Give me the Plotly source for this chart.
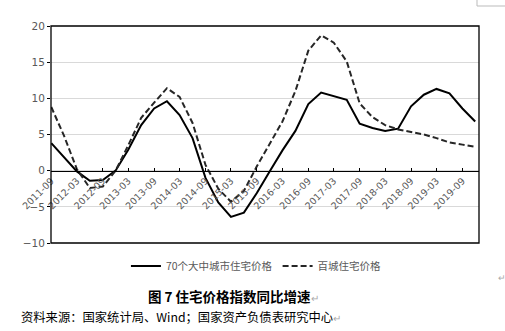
import plotly.graph_objects as go

# Quarterly observation dates
quarters = [
    "2011-09", "2011-12", "2012-03", "2012-06", "2012-09", "2012-12",
    "2013-03", "2013-06", "2013-09", "2013-12", "2014-03", "2014-06",
    "2014-09", "2014-12", "2015-03", "2015-06", "2015-09", "2015-12",
    "2016-03", "2016-06", "2016-09", "2016-12", "2017-03", "2017-06",
    "2017-09", "2017-12", "2018-03", "2018-06", "2018-09", "2018-12",
    "2019-03", "2019-06", "2019-09", "2019-12",
]

# YoY growth of residential price index, %
city70 = [
    3.8, 1.9, -0.1, -1.4, -1.3, 0.0, 2.9, 6.3, 8.6, 9.6, 7.7, 4.5,
    -1.0, -4.4, -6.4, -5.8, -3.1, -0.1, 2.8, 5.5, 9.2, 10.8, 10.3, 9.8,
    6.5, 5.9, 5.5, 5.8, 8.9, 10.5, 11.3, 10.7, 8.6, 6.8,
]
city100 = [
    8.8, 4.8, 0.2, -2.4, -2.2, 0.0, 3.5, 7.3, 9.4, 11.4, 10.2, 6.6,
    0.8, -2.5, -4.3, -2.8, 0.6, 3.7, 6.8, 11.0, 16.6, 18.7, 17.7, 15.1,
    9.3, 7.4, 6.3, 5.7, 5.3, 5.0, 4.5, 3.9, 3.6, 3.3,
]

names = ["70个大中城市住宅价格", "百城住宅价格"]
y_ticks = [-10, -5, 0, 5, 10, 15, 20]

x_dates = [q + "-01" for q in quarters]

grey = "#595959"
cjk = "Noto Sans CJK SC"

fig = go.Figure()
fig.add_trace(go.Scatter(
    x=x_dates, y=city70, name=names[0], mode="lines",
    line=dict(color="#000000", width=2),
))
fig.add_trace(go.Scatter(
    x=x_dates, y=city100, name=names[1], mode="lines",
    line=dict(color="#262626", width=2, dash="6px,3px"),
))

W, H = 505, 331
ml, mr, mt, mb = 51, 26, 26, 88
plot_w = W - ml - mr
plot_h = H - mt - mb
ymin, ymax = -10, 20
zero_frac = (0 - ymin) / (ymax - ymin)

fig.update_layout(
    width=W, height=H,
    margin=dict(l=ml, r=mr, t=mt, b=mb),
    paper_bgcolor="white", plot_bgcolor="white",
    showlegend=True,
    legend=dict(
        orientation="h", x=0.48, xanchor="center",
        y=-23 / plot_h, yanchor="middle",
        font=dict(family=cjk, size=10.5, color=grey),
        itemwidth=30, tracegroupgap=0,
    ),
    xaxis=dict(
        type="date",
        range=["2011-08-30", "2019-12-28"],
        tick0="2011-09-01", dtick="M6", tickformat="%Y-%m",
        tickangle=-45,
        tickfont=dict(family="DejaVu Sans", size=9.5, color=grey),
        anchor="free", position=zero_frac,
        showline=True, linecolor="#000000", linewidth=1.3,
        ticks="inside", ticklen=3, tickcolor="#000000",
        showgrid=False, zeroline=False,
    ),
    yaxis=dict(
        range=[ymin, ymax], tickvals=y_ticks,
        tickfont=dict(family="DejaVu Sans", size=10.5, color=grey),
        showgrid=True, gridcolor="#d9d9d9", gridwidth=1,
        ticks="outside", ticklen=3, tickcolor="#000000",
        zeroline=False, showline=False,
    ),
    shapes=[
        dict(type="rect", xref="paper", yref="paper", x0=0, x1=1, y0=0, y1=1,
             line=dict(color="#000000", width=1.3), layer="above"),
        dict(type="rect", xref="paper", yref="paper",
             x0=(477 - ml) / plot_w, x1=(515 - ml) / plot_w,
             y0=(H - mb - 6) / plot_h, y1=(H - mb + 10) / plot_h,
             line=dict(color="#bbbbbb", width=1)),
    ],
    annotations=[
        dict(text="图 7 住宅价格指数同比增速<span style='color:#aaaaaa;font-size:10px;font-weight:normal'>↵</span>",
             xref="paper", yref="paper", x=(233 - ml) / plot_w, y=-53 / plot_h,
             xanchor="center", yanchor="middle", showarrow=False,
             font=dict(family=cjk, size=13.5, color="#000000", weight="bold")),
        dict(text="资料来源：国家统计局、Wind；国家资产负债表研究中心<span style='color:#aaaaaa;font-size:10px'>↵</span>",
             xref="paper", yref="paper", x=(19 - ml) / plot_w, y=-74 / plot_h,
             xanchor="left", yanchor="middle", showarrow=False,
             font=dict(family=cjk, size=12.3, color="#000000")),
        dict(text="↵", xref="paper", yref="paper", x=(502 - ml) / plot_w,
             y=-34 / plot_h, xanchor="center", yanchor="middle", showarrow=False,
             font=dict(family=cjk, size=9, color="#aaaaaa")),
    ],
)

fig.write_html("out.html")
